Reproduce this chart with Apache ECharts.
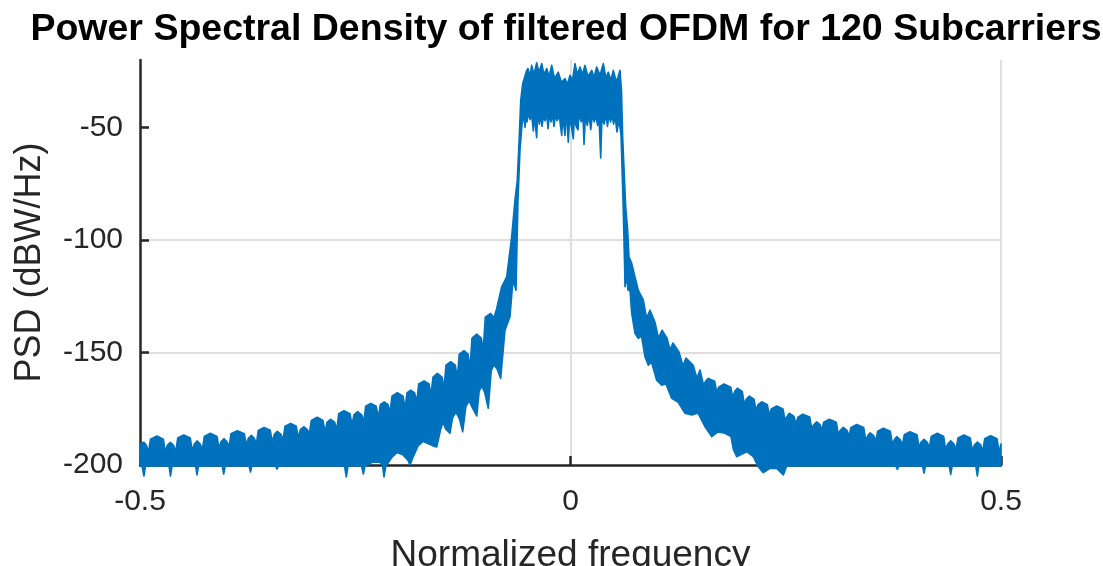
<!DOCTYPE html>
<html>
<head>
<meta charset="utf-8">
<script src="https://cdn.jsdelivr.net/npm/echarts@6.0.0/dist/echarts.min.js"></script>
<style>
html,body{margin:0;padding:0;background:#fff;}
#chart{width:1103px;height:566px;}
</style>
</head>
<body>
<div id="chart"></div>
<script>
const chartTitle = 'Power Spectral Density of filtered OFDM for 120 Subcarriers';
const xName = 'Normalized frequency';
const yName = 'PSD (dBW/Hz)';
const freqTicks = [-0.5, 0, 0.5];
const psdTicks = [-200, -150, -100, -50];

// Upper envelope of the PSD trace [normalized frequency, dBW/Hz]
const upperEnvelope = [
[-0.5000,-190.7],
[-0.4954,-189.9],[-0.4925,-191.3],[-0.4901,-194.2],
[-0.4878,-188.5],[-0.4803,-187.1],[-0.4729,-188.5],[-0.4706,-194.2],
[-0.4683,-191.3],[-0.4648,-189.9],[-0.4609,-191.3],[-0.4585,-194.2],
[-0.4562,-188.0],[-0.4492,-186.7],[-0.4416,-188.0],[-0.4393,-193.8],
[-0.4369,-190.7],[-0.4338,-189.3],[-0.4300,-190.7],[-0.4276,-193.3],
[-0.4253,-187.3],[-0.4184,-185.9],[-0.4106,-187.3],[-0.4082,-192.5],
[-0.4059,-189.7],[-0.4024,-188.3],[-0.3990,-189.7],[-0.3966,-192.0],
[-0.3943,-186.1],[-0.3870,-184.8],[-0.3789,-186.1],[-0.3765,-191.1],
[-0.3742,-188.1],[-0.3707,-186.8],[-0.3672,-188.1],[-0.3649,-190.7],
[-0.3626,-184.6],[-0.3560,-183.3],[-0.3487,-184.6],[-0.3463,-189.8],
[-0.3440,-186.4],[-0.3405,-185.0],[-0.3362,-186.4],[-0.3339,-188.9],
[-0.3316,-182.8],[-0.3250,-181.5],[-0.3185,-182.8],[-0.3161,-188.0],
[-0.3138,-184.3],[-0.3095,-183.0],[-0.3057,-184.3],[-0.3034,-186.2],
[-0.3010,-180.2],[-0.2941,-178.8],[-0.2875,-180.2],[-0.2851,-185.3],
[-0.2828,-181.0],[-0.2785,-179.7],[-0.2739,-181.0],[-0.2715,-184.5],
[-0.2692,-177.2],[-0.2631,-175.9],[-0.2561,-177.2],[-0.2538,-182.2],
[-0.2515,-177.7],[-0.2472,-176.3],[-0.2425,-177.7],[-0.2402,-180.9],
[-0.2379,-173.9],[-0.2321,-172.6],[-0.2256,-173.9],[-0.2232,-179.1],
[-0.2209,-173.2],[-0.2163,-171.9],[-0.2120,-173.2],[-0.2096,-176.5],
[-0.2073,-169.4],[-0.2012,-167.9],[-0.1945,-169.4],[-0.1922,-174.7],
[-0.1899,-168.0],[-0.1856,-166.7],[-0.1810,-168.0],[-0.1786,-172.0],
[-0.1763,-164.0],[-0.1701,-162.6],[-0.1643,-164.0],[-0.1620,-168.9],
[-0.1597,-160.9],[-0.1547,-159.3],[-0.1492,-160.9],[-0.1469,-165.8],
[-0.1446,-155.6],[-0.1391,-154.1],[-0.1338,-155.6],[-0.1315,-161.4],
[-0.1292,-150.7],[-0.1237,-149.2],[-0.1190,-150.7],[-0.1167,-156.9],
[-0.1144,-143.6],[-0.1089,-141.8],[-0.1036,-143.6],[-0.1013,-148.9],
[-0.0990,-134.3],[-0.0927,-132.6],[-0.0889,-134.7],[-0.0857,-130.4],
[-0.0799,-120.8],[-0.0741,-116.4],[-0.0683,-98.6],[-0.0645,-82.3],
[-0.0618,-73.4],[-0.0595,-54.2],[-0.0578,-37.9],[-0.0555,-30.5],
[-0.0509,-24.6],[-0.0494,-23.8],[-0.0470,-27.3],[-0.0451,-22.4],
[-0.0424,-26.4],[-0.0393,-21.2],[-0.0366,-25.5],[-0.0334,-21.6],
[-0.0308,-26.4],[-0.0276,-23.8],[-0.0250,-27.3],[-0.0218,-22.4],
[-0.0186,-28.2],[-0.0142,-25.4],[-0.0105,-29.9],[-0.0064,-28.3],
[-0.0035,-30.8],[-0.0006,-26.8],[0.0023,-29.0],[0.0052,-21.6],
[0.0081,-26.4],[0.0110,-23.1],[0.0139,-26.4],[0.0168,-22.4],
[0.0203,-27.3],[0.0246,-24.6],[0.0273,-27.7],[0.0304,-23.1],
[0.0343,-26.8],[0.0381,-21.6],[0.0412,-28.2],[0.0439,-25.4],
[0.0470,-29.0],[0.0497,-24.6],[0.0534,-29.9],[0.0575,-24.6],
[0.0592,-33.5],[0.0606,-54.2],[0.0625,-71.2],[0.0641,-85.3],
[0.0664,-95.6],[0.0679,-107.5],[0.0711,-110.4],[0.0749,-116.4],
[0.0787,-122.3],[0.0846,-126.7],[0.0883,-134.7],[0.0923,-131.2],
[0.0981,-136.5],[0.1022,-143.6],[0.1063,-140.1],[0.1121,-143.6],
[0.1156,-148.9],[0.1190,-145.8],[0.1260,-149.8],[0.1307,-156.0],
[0.1341,-152.5],[0.1423,-155.6],[0.1469,-161.4],[0.1504,-157.8],
[0.1545,-164.5],[0.1568,-162.8],[0.1600,-161.5],[0.1675,-162.8],[0.1698,-167.6],
[0.1721,-165.4],[0.1783,-164.0],[0.1861,-165.4],[0.1884,-169.8],
[0.1907,-167.3],[0.1937,-165.9],[0.1995,-167.3],[0.2019,-172.9],
[0.2042,-170.7],[0.2077,-169.4],[0.2131,-170.7],[0.2154,-175.6],
[0.2178,-173.2],[0.2221,-171.9],[0.2286,-173.2],[0.2309,-177.8],
[0.2332,-175.1],[0.2395,-173.8],[0.2468,-175.1],[0.2491,-180.0],
[0.2515,-178.4],[0.2541,-177.0],[0.2596,-178.4],[0.2619,-181.8],
[0.2642,-178.7],[0.2697,-177.4],[0.2778,-178.7],[0.2801,-183.6],
[0.2825,-182.1],[0.2859,-180.8],[0.2898,-182.1],[0.2918,-184.5],
[0.2941,-181.0],[0.3006,-179.7],[0.3087,-181.0],[0.3110,-186.2],
[0.3134,-184.6],[0.3168,-183.3],[0.3211,-184.6],[0.3235,-187.1],
[0.3258,-183.3],[0.3324,-182.0],[0.3405,-183.3],[0.3429,-188.9],
[0.3452,-187.0],[0.3479,-185.7],[0.3522,-187.0],[0.3545,-189.3],
[0.3568,-185.0],[0.3633,-183.7],[0.3714,-185.0],[0.3738,-190.7],
[0.3761,-188.8],[0.3789,-187.4],[0.3830,-188.8],[0.3854,-191.1],
[0.3877,-186.5],[0.3943,-185.2],[0.4024,-186.5],[0.4048,-192.0],
[0.4071,-189.9],[0.4106,-188.6],[0.4144,-189.9],[0.4167,-192.5],
[0.4190,-187.3],[0.4260,-185.9],[0.4334,-187.3],[0.4358,-193.3],
[0.4381,-190.7],[0.4416,-189.3],[0.4454,-190.7],[0.4477,-193.3],
[0.4501,-188.0],[0.4570,-186.7],[0.4643,-188.0],[0.4667,-193.8],
[0.4690,-191.1],[0.4725,-189.8],[0.4765,-191.1],[0.4787,-194.2],
[0.4811,-188.3],[0.4880,-187.0],[0.4954,-188.3],[0.4977,-194.2],
[0.5000,-190.7]
];

// Lower envelope of the PSD trace [normalized frequency, dBW/Hz]
const lowerEnvelope = [
[-0.5000,-200.4],
[-0.4977,-200.4],[-0.4954,-204.9],[-0.4936,-200.4],
[-0.4663,-200.4],[-0.4646,-204.9],[-0.4628,-200.4],
[-0.4355,-200.4],[-0.4338,-204.4],[-0.4321,-200.4],
[-0.4045,-200.4],[-0.4028,-204.0],[-0.4010,-200.4],
[-0.3734,-200.4],[-0.3717,-203.1],[-0.3699,-200.4],
[-0.3426,-200.4],[-0.3409,-201.8],[-0.3391,-200.4],
[-0.2625,-200.4],[-0.2604,-205.3],[-0.2584,-200.4],
[-0.2427,-200.4],[-0.2406,-204.0],[-0.2387,-200.4],
[-0.2352,-200.0],[-0.2305,-198.8],[-0.2213,-198.8],[-0.2184,-200.0],
[-0.2166,-205.3],[-0.2143,-200.0],[-0.2120,-199.2],[-0.2073,-196.5],
[-0.2015,-194.5],[-0.1945,-195.5],[-0.1887,-198.0],[-0.1864,-200.0],
[-0.1829,-196.5],[-0.1771,-191.5],[-0.1713,-189.5],[-0.1655,-190.5],
[-0.1597,-191.5],[-0.1554,-192.0],[-0.1510,-184.5],[-0.1481,-181.0],[-0.1450,-184.0],[-0.1400,-185.9],
[-0.1370,-179.0],[-0.1330,-176.5],[-0.1290,-179.5],[-0.1252,-185.2],
[-0.1215,-174.0],[-0.1179,-171.5],[-0.1140,-174.5],[-0.1089,-178.2],
[-0.1060,-167.0],[-0.1028,-165.0],[-0.0995,-168.0],[-0.0955,-174.8],
[-0.0920,-158.0],[-0.0889,-155.5],[-0.0850,-157.5],[-0.0811,-161.5],
[-0.0761,-140.1],[-0.0703,-134.1],[-0.0668,-117.8],[-0.0633,-122.3],
[-0.0610,-82.3],[-0.0587,-60.1],[-0.0563,-48.5],
[-0.0540,-44.5],[-0.0528,-50.0],[-0.0516,-44.0],[-0.0505,-47.5],[-0.0490,-43.5],[-0.0470,-46.5],
[-0.0452,-44.0],[-0.0432,-51.5],[-0.0420,-44.5],[-0.0393,-54.5],[-0.0380,-44.0],[-0.0360,-48.5],
[-0.0345,-44.0],[-0.0331,-49.5],[-0.0312,-44.5],[-0.0296,-47.0],[-0.0278,-43.5],[-0.0261,-50.5],
[-0.0245,-44.5],[-0.0226,-47.5],[-0.0210,-44.0],[-0.0192,-49.5],[-0.0175,-44.0],[-0.0157,-47.0],
[-0.0130,-45.0],[-0.0102,-53.5],[-0.0090,-45.0],[-0.0064,-53.5],[-0.0055,-45.5],[-0.0040,-48.0],
[-0.0026,-56.5],[-0.0010,-46.0],[0.0010,-49.5],[0.0033,-55.0],[0.0045,-45.0],[0.0065,-49.5],
[0.0087,-51.0],[0.0100,-44.0],[0.0125,-47.5],[0.0145,-45.0],[0.0157,-57.5],[0.0172,-45.5],
[0.0195,-49.0],[0.0215,-44.5],[0.0235,-51.0],[0.0256,-44.0],[0.0275,-47.5],[0.0296,-45.0],
[0.0315,-49.0],[0.0330,-45.0],[0.0351,-63.5],[0.0365,-45.5],[0.0390,-48.5],[0.0412,-44.5],
[0.0430,-49.5],[0.0447,-44.0],[0.0465,-47.5],[0.0482,-44.5],[0.0500,-48.5],[0.0517,-45.0],
[0.0540,-52.0],[0.0560,-47.0],[0.0575,-50.0],
[0.0587,-53.5],[0.0610,-82.3],[0.0627,-109.0],[0.0633,-120.8],
[0.0650,-115.6],[0.0668,-122.3],[0.0691,-122.3],[0.0711,-132.6],
[0.0749,-141.5],[0.0787,-143.7],[0.0825,-142.7],[0.0865,-151.9],
[0.0904,-155.6],[0.0941,-154.3],[0.1001,-162.3],[0.1059,-164.5],
[0.1109,-164.0],[0.1175,-170.4],[0.1249,-172.0],[0.1330,-177.0],
[0.1408,-177.8],[0.1481,-176.9],[0.1562,-183.0],[0.1640,-187.4],
[0.1713,-185.3],[0.1794,-185.9],[0.1864,-187.4],[0.1893,-193.3],
[0.1930,-196.3],[0.1969,-195.6],[0.2046,-194.1],[0.2123,-196.3],
[0.2181,-200.8],[0.2239,-203.4],[0.2317,-201.5],[0.2395,-201.5],
[0.2472,-204.4],[0.2511,-200.4],
[0.3778,-200.4],[0.3796,-202.0],[0.3813,-200.4],
[0.4088,-200.4],[0.4106,-203.6],[0.4123,-200.4],
[0.4398,-200.4],[0.4416,-204.2],[0.4433,-200.4],
[0.4707,-200.4],[0.4725,-204.9],[0.4742,-200.4],
[0.5000,-200.4]
];

const FONT = '"Liberation Sans", Arial, Helvetica, sans-serif';
const INK = '#262626';
const BLUE = '#0072BD';

const chart = echarts.init(document.getElementById('chart'), null, {renderer: 'canvas'});

chart.setOption({
  animation: false,
  backgroundColor: '#fff',
  title: {
    text: chartTitle,
    left: 561,
    textAlign: 'center',
    top: 6,
    textStyle: {fontFamily: FONT, fontWeight: 'bold', fontSize: 37.5, color: '#000'}
  },
  grid: {left: 140, right: 102, top: 60, bottom: 101, containLabel: false, outerBoundsMode: 'none'},
  xAxis: {
    type: 'value',
    min: -0.5, max: 0.5, interval: 0.5,
    name: xName, nameLocation: 'middle', nameGap: 72,
    nameTextStyle: {fontFamily: FONT, fontSize: 37, color: INK},
    axisLine: {show: true, onZero: false, lineStyle: {color: INK, width: 2.5}},
    axisTick: {show: true, inside: true, length: 9, lineStyle: {color: INK, width: 2.5}, customValues: freqTicks},
    axisLabel: {fontFamily: FONT, fontSize: 30, color: INK, margin: 22, customValues: freqTicks,
      formatter: v => String(v)},
    splitLine: {show: true, showMinLine: false, lineStyle: {color: '#dfdfdf', width: 2}}
  },
  yAxis: {
    type: 'value',
    min: -200, max: -20, interval: 50,
    name: yName, nameLocation: 'middle', nameGap: 92, nameRotate: 90,
    nameTextStyle: {fontFamily: FONT, fontSize: 36, color: INK},
    axisLine: {show: true, onZero: false, lineStyle: {color: INK, width: 2.5}},
    axisTick: {show: true, inside: true, length: 9, lineStyle: {color: INK, width: 2.5}, customValues: psdTicks},
    axisLabel: {fontFamily: FONT, fontSize: 30, color: INK, margin: 17, customValues: psdTicks},
    splitLine: {show: true, showMinLine: false, showMaxLine: false, lineStyle: {color: '#dfdfdf', width: 2}}
  },
  series: [{
    type: 'custom',
    name: 'PSD',
    clip: false,
    z: 3,
    data: [[upperEnvelope[0][0], upperEnvelope[0][1]]],
    encode: {x: 0, y: 1},
    renderItem: function (params, api) {
      const pts = [];
      for (const p of upperEnvelope) pts.push(api.coord(p));
      for (let i = lowerEnvelope.length - 1; i >= 0; i--) pts.push(api.coord(lowerEnvelope[i]));
      return {
        type: 'polygon',
        shape: {points: pts},
        style: {fill: BLUE, stroke: BLUE, lineWidth: 1.6, lineJoin: 'round'}
      };
    }
  }]
});
</script>
</body>
</html>
